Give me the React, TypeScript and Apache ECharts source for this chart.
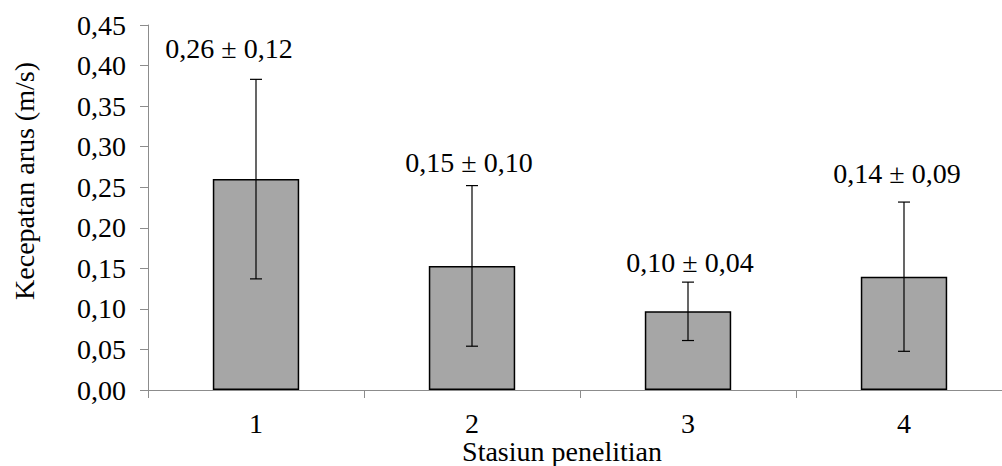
import React, { useEffect, useRef } from "react";
import * as echarts from "echarts";

const categories = ["1", "2", "3", "4"];
const means = [0.26, 0.153, 0.097, 0.1397];
const sds = [0.123, 0.099, 0.036, 0.092];
const yTicks = { min: 0, max: 0.45, interval: 0.05 };
const xTitle = "Stasiun penelitian";
const yTitle = "Kecepatan arus (m/s)";

// label placement relative to the top of each error bar (pixels)
const labelDx = [-27, -3, 2, -7];
const labelDy = [-31, -23, -20, -29];

const FONT = "Liberation Serif";
const fmt = (v: number) => v.toFixed(2).replace(".", ",");

export default function App() {
  const ref = useRef<HTMLDivElement>(null);
  useEffect(() => {
    if (!ref.current) return;
    const chart = echarts.init(ref.current, undefined, { renderer: "svg" });
    const errData = categories.map((c, i) => [i, means[i], sds[i]]);
    const txt = { fill: "#000", fontFamily: FONT, fontSize: 28 };
    chart.setOption({
      animation: false,
      backgroundColor: "#ffffff",
      textStyle: { fontFamily: FONT },
      grid: { left: 148, right: 0, top: 25, bottom: 76 },
      xAxis: {
        type: "category",
        data: categories,
        boundaryGap: true,
        axisLine: { lineStyle: { color: "#8c8c8c", width: 1 } },
        axisTick: { show: true, length: 8, lineStyle: { color: "#8c8c8c" } },
        axisLabel: { color: "#000", fontFamily: FONT, fontSize: 28, margin: 19 },
      },
      yAxis: {
        type: "value",
        min: yTicks.min,
        max: yTicks.max,
        interval: yTicks.interval,
        axisLine: { show: true, lineStyle: { color: "#8c8c8c", width: 1 } },
        axisTick: { show: true, length: 8, lineStyle: { color: "#8c8c8c" } },
        splitLine: { show: false },
        axisLabel: {
          color: "#000",
          fontFamily: FONT,
          fontSize: 28,
          margin: 22,
          formatter: (v: number) => fmt(v),
        },
      },
      graphic: [
        {
          type: "text",
          x: 24,
          y: 181,
          rotation: Math.PI / 2,
          style: { ...txt, text: yTitle, align: "center", verticalAlign: "middle" },
        },
        {
          type: "text",
          x: 562,
          y: 451,
          style: { ...txt, text: xTitle, align: "center", verticalAlign: "middle" },
        },
      ],
      series: [
        {
          type: "bar",
          data: means,
          barWidth: "40%",
          itemStyle: { color: "#a6a6a6", borderColor: "#000", borderWidth: 1.5 },
        },
        {
          type: "custom",
          data: errData,
          z: 10,
          renderItem: (params: any, api: any) => {
            const i = api.value(0);
            const m = api.value(1);
            const s = api.value(2);
            const top = api.coord([i, m + s]);
            const bot = api.coord([i, m - s]);
            const x = top[0];
            const cap = 6;
            const st = { stroke: "#000", lineWidth: 1.2 };
            const idx = params.dataIndex;
            return {
              type: "group",
              children: [
                { type: "line", shape: { x1: x, y1: top[1], x2: x, y2: bot[1] }, style: st },
                { type: "line", shape: { x1: x - cap, y1: top[1], x2: x + cap, y2: top[1] }, style: st },
                { type: "line", shape: { x1: x - cap, y1: bot[1], x2: x + cap, y2: bot[1] }, style: st },
                {
                  type: "text",
                  x: x + labelDx[idx],
                  y: top[1] + labelDy[idx],
                  style: {
                    ...txt,
                    text: `${fmt(m)} ± ${fmt(s)}`,
                    align: "center",
                    verticalAlign: "middle",
                  },
                },
              ],
            };
          },
        },
      ],
    });
    return () => chart.dispose();
  }, []);
  return (
    <div style={{ position: "fixed", left: 0, top: 0, width: 1002, height: 466, overflow: "hidden", background: "#fff" }}>
      <div ref={ref} style={{ width: 1012, height: 466 }} />
    </div>
  );
}
